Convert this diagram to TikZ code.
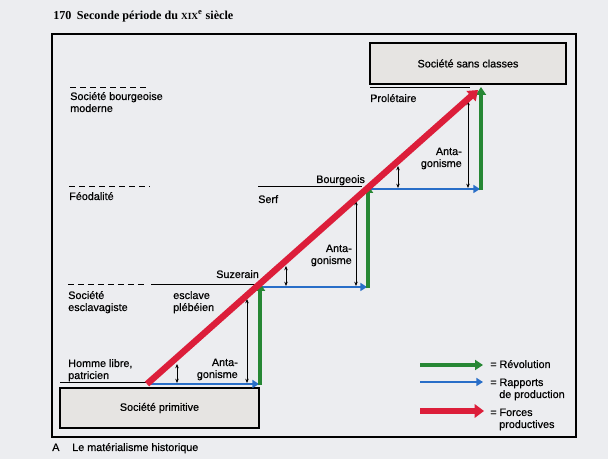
\documentclass[tikz,border=0pt]{standalone}
\usepackage{fontspec}
\setmainfont{Liberation Sans}[FakeBold=0.6]
\newfontfamily\titlefont{Liberation Serif}
\usetikzlibrary{arrows.meta}
\definecolor{bg}{RGB}{236,237,240}
\definecolor{boxfill}{RGB}{230,228,226}
\definecolor{revgreen}{RGB}{38,135,52}
\definecolor{rapblue}{RGB}{40,110,200}
\definecolor{forcered}{RGB}{220,30,58}
\tikzset{
  lbl/.style={anchor=base west, inner sep=0pt, font=\fontsize{8.1}{9.5}\selectfont},
  lblr/.style={anchor=base east, inner sep=0pt, font=\fontsize{8.1}{9.5}\selectfont},
  boxnode/.style={draw, line width=1.1pt, fill=boxfill, inner sep=0pt, font=\fontsize{8.1}{9.5}\selectfont},
  lvl/.style={black, line width=0.75pt},
  lvldash/.style={black, line width=0.75pt, dash pattern=on 4.5pt off 3pt},
  redarrow/.style={forcered, line width=4.8pt, -{Triangle[length=7pt,width=10pt]}},
  greenarrow/.style={revgreen, line width=3pt, -{Triangle[length=6pt,width=7.5pt]}},
  bluearrow/.style={rapblue, line width=2pt, -{Triangle[length=5pt,width=6pt]}},
  antag/.style={black, line width=0.5pt, {Stealth[length=3.2pt,width=2.6pt]}-{Stealth[length=3.2pt,width=2.6pt]}}
}
\begin{document}
\begin{tikzpicture}[x=0.75pt,y=-0.75pt]
\useasboundingbox (0,0) rectangle (608,459);
\fill[bg] (0,0) rectangle (608,459);

% title and caption
\node[anchor=base west, inner sep=0pt, font=\titlefont\bfseries\fontsize{9.1}{11}\selectfont] (title) at (53,20)
  {170\hspace{0.45em}Seconde période du {\fontsize{7}{8}\selectfont XIX}\textsuperscript{e} siècle};
\node[lbl] (capA) at (52,451) {A};
\node[lbl] (cap) at (72,451) {Le matérialisme historique};

% frame
\draw[line width=0.8pt] (52,34) rectangle (576,437);

% boxes
\node[boxnode, minimum width=149.25pt, minimum height=30pt] (prim) at (159.5,408) {Société primitive};
\node[boxnode, minimum width=147pt, minimum height=30.75pt] (sans) at (468,63.5) {Société sans classes};

% level lines
\coordinate (l0a) at (60,383);  \coordinate (l0b) at (148,383);
\coordinate (d1a) at (68,285);  \coordinate (d1b) at (148,285);
\coordinate (l1a) at (151,285); \coordinate (l1b) at (256,285);
\coordinate (d2a) at (69,187);  \coordinate (d2b) at (150,187);
\coordinate (l2a) at (258,187); \coordinate (l2b) at (362,187);
\coordinate (d3a) at (70,88);   \coordinate (d3b) at (148,88);
\coordinate (l3a) at (370,88);  \coordinate (l3b) at (470,88);
\draw[lvl] (l0a) -- (l0b);
\draw[lvldash] (d1a) -- (d1b);
\draw[lvl] (l1a) -- (l1b);
\draw[lvldash] (d2a) -- (d2b);
\draw[lvl] (l2a) -- (l2b);
\draw[lvldash] (d3a) -- (d3b);
\draw[lvl] (l3a) -- (l3b);

% labels
\node[lbl] (hl1) at (68,367) {Homme libre,};
\node[lbl] (hl2) at (68,379) {patricien};
\node[lbl] (se1) at (68,299) {Société};
\node[lbl] (se2) at (68,311) {esclavagiste};
\node[lbl] (ep1) at (173,299) {esclave};
\node[lbl] (ep2) at (173,311) {plébéien};
\node[lbl] (suz) at (216,278) {Suzerain};
\node[lbl] (feo) at (69,200) {Féodalité};
\node[lbl] (serf) at (258,203) {Serf};
\node[lbl] (bour) at (316,183) {Bourgeois};
\node[lbl] (sbm1) at (70,100) {Société bourgeoise};
\node[lbl] (sbm2) at (70,112) {moderne};
\node[lbl] (prol) at (370,102) {Prolétaire};
\node[lblr] (an0a) at (238,366) {Anta-};
\node[lblr] (an0b) at (238,378) {gonisme};
\node[lblr] (an1a) at (352,252) {Anta-};
\node[lblr] (an1b) at (352,264) {gonisme};
\node[lblr] (an2a) at (462,155) {Anta-};
\node[lblr] (an2b) at (462,167) {gonisme};

% antagonism arrows
\coordinate (s0t) at (177,364); \coordinate (s0b) at (177,383);
\coordinate (g0t) at (247,299); \coordinate (g0b) at (247,383);
\coordinate (s1t) at (286,266); \coordinate (s1b) at (286,286);
\coordinate (g1t) at (356,201); \coordinate (g1b) at (356,286);
\coordinate (s2t) at (398,166); \coordinate (s2b) at (398,188);
\coordinate (g2t) at (468,101); \coordinate (g2b) at (468,188);
\draw[antag] (s0t) -- (s0b);
\draw[antag] (g0t) -- (g0b);
\draw[antag] (s1t) -- (s1b);
\draw[antag] (g1t) -- (g1b);
\draw[antag] (s2t) -- (s2b);
\draw[antag] (g2t) -- (g2b);

% staircase
\coordinate (b0s) at (148,384); \coordinate (b0e) at (259,384);
\coordinate (b1s) at (258,287); \coordinate (b1e) at (367,287);
\coordinate (b2s) at (366,189); \coordinate (b2e) at (480,189);
\coordinate (v0s) at (260,385.5); \coordinate (v0e) at (260,283);
\coordinate (v1s) at (368,288.5); \coordinate (v1e) at (368,185);
\coordinate (v2s) at (481,190.5); \coordinate (v2e) at (481,87);
\coordinate (rs) at (147,384); \coordinate (re) at (478,90);
\draw[bluearrow] (b0s) -- (b0e);
\draw[bluearrow] (b1s) -- (b1e);
\draw[bluearrow] (b2s) -- (b2e);
\draw[greenarrow] (v0s) -- (v0e);
\draw[greenarrow] (v1s) -- (v1e);
\draw[greenarrow] (v2s) -- (v2e);
\draw[redarrow] (rs) -- (re);

% legend
\coordinate (lg1) at (420,365); \coordinate (lg2) at (483,365);
\coordinate (lb1) at (420,382); \coordinate (lb2) at (483,382);
\coordinate (lr1) at (420,411); \coordinate (lr2) at (484,411);
\draw[greenarrow] (lg1) -- (lg2);
\draw[bluearrow] (lb1) -- (lb2);
\draw[redarrow] (lr1) -- (lr2);
\node[lbl] (leg1) at (490,368) {= Révolution};
\node[lbl] (leg2a) at (490,386) {= Rapports};
\node[lbl] (leg2b) at (499,398) {de production};
\node[lbl] (leg3a) at (490,416) {= Forces};
\node[lbl] (leg3b) at (499,428) {productives};
\end{tikzpicture}
\end{document}
